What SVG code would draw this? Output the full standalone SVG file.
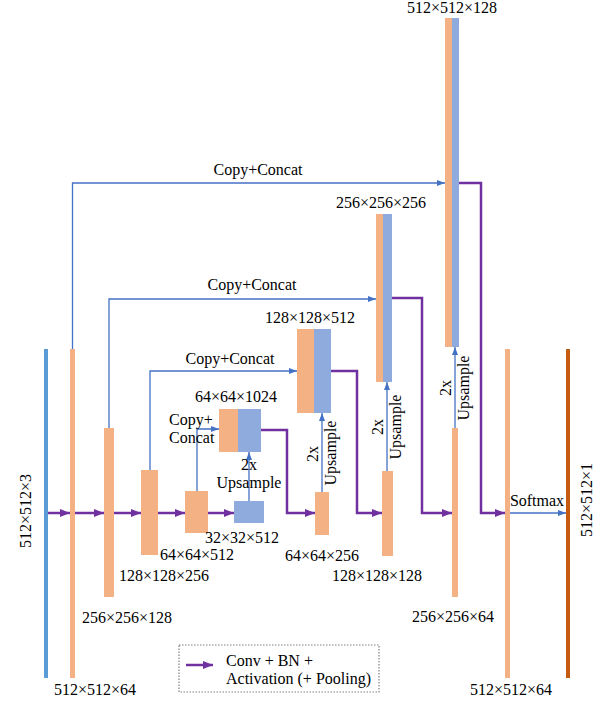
<svg xmlns="http://www.w3.org/2000/svg" width="612" height="704" viewBox="0 0 612 704">
<defs>
<marker id="pa" markerUnits="userSpaceOnUse" markerWidth="10" markerHeight="10" viewBox="0 0 10 10" refX="10" refY="5" orient="auto"><path d="M0,1 L10,5 L0,9 Z" fill="#7030A0"/></marker>
<marker id="ba" markerUnits="userSpaceOnUse" markerWidth="8" markerHeight="8" viewBox="0 0 8 8" refX="8" refY="4" orient="auto"><path d="M0,1 L8,4 L0,7 Z" fill="#4472C4"/></marker>
<style>
.o{fill:#F4B183}.b{fill:#8FAADC}
.p{fill:none;stroke:#7030A0;stroke-width:2.5;marker-end:url(#pa)}
.c{fill:none;stroke:#4472C4;stroke-width:1.3;marker-end:url(#ba)}
text{font-family:"Liberation Serif","Times New Roman",serif;font-size:16px;fill:#000}
.m{text-anchor:middle}
</style>
</defs>
<rect width="612" height="704" fill="#fff"/>
<g id="connectors">
<path class="p" d="M48,513 H70"/>
<path class="p" d="M75,513 H104"/>
<path class="p" d="M114,513 H141"/>
<path class="p" d="M158,513 H185"/>
<path class="p" d="M208,513 H234"/>
<path class="p" d="M261,430 H287 V513 H315"/>
<path class="p" d="M331,371 H357 V513 H382"/>
<path class="p" d="M392,298 H422 V513 H452"/>
<path class="p" d="M459,183 H481 V513 H505"/>
<path class="c" d="M72.5,349 V183 H445"/>
<path class="c" d="M109,428 V299 H376"/>
<path class="c" d="M150,470 V371 H297"/>
<path class="c" d="M197,491 V429 H219"/>
<path class="c" d="M249,501 V452"/>
<path class="c" d="M322,492 V413"/>
<path class="c" d="M387,471 V382"/>
<path class="c" d="M455,428 V347"/>
<path class="c" d="M510,513 H566"/>
</g>
<g id="input"><rect x="44" y="349" width="4" height="329" fill="#5B9BD5"/><text transform="translate(31,511) rotate(-90)" class="m">512×512×3</text></g>
<g id="enc1"><rect class="o" x="70" y="349" width="5" height="329"/><text x="95" y="695" class="m">512×512×64</text></g>
<g id="enc2"><rect class="o" x="104" y="428" width="10" height="169"/><text x="127" y="623" class="m">256×256×128</text></g>
<g id="enc3"><rect class="o" x="141" y="470" width="17" height="85"/><text x="164" y="581" class="m">128×128×256</text></g>
<g id="enc4"><rect class="o" x="185" y="491" width="23" height="42"/><text x="197" y="560" class="m">64×64×512</text></g>
<g id="bottleneck"><rect class="b" x="234" y="501" width="30" height="22"/><text x="242" y="543" class="m">32×32×512</text></g>
<g id="cat1"><rect class="o" x="219" y="409" width="19" height="43"/><rect class="b" x="238" y="409" width="23" height="43"/><text x="236" y="402" class="m">64×64×1024</text></g>
<g id="dec1"><rect class="o" x="315" y="492" width="14" height="43"/><text x="322" y="561" class="m">64×64×256</text></g>
<g id="cat2"><rect class="o" x="297" y="329" width="17" height="84"/><rect class="b" x="314" y="329" width="17" height="84"/><text x="310" y="323" class="m">128×128×512</text></g>
<g id="dec2"><rect class="o" x="382" y="471" width="11" height="85"/><text x="377" y="581" class="m">128×128×128</text></g>
<g id="cat3"><rect class="o" x="376" y="214" width="7" height="168"/><rect class="b" x="383" y="214" width="9" height="168"/><text x="381" y="208" class="m">256×256×256</text></g>
<g id="dec3"><rect class="o" x="452" y="428" width="6" height="169"/><text x="453" y="622" class="m">256×256×64</text></g>
<g id="cat4"><rect class="o" x="445" y="18" width="7" height="329"/><rect class="b" x="452" y="18" width="7" height="329"/><text x="452" y="13" class="m">512×512×128</text></g>
<g id="dec4"><rect class="o" x="505" y="349" width="5" height="329"/><text x="511" y="695" class="m">512×512×64</text></g>
<g id="output"><rect x="566" y="349" width="4" height="329" fill="#C55A11"/><text transform="translate(592,500) rotate(-90)" class="m">512×512×1</text></g>
<g id="labels">
<text x="258" y="175" class="m">Copy+Concat</text>
<text x="252" y="290" class="m">Copy+Concat</text>
<text x="230" y="364" class="m">Copy+Concat</text>
<text x="169" y="425">Copy+</text>
<text x="169" y="443">Concat</text>
<text x="249" y="470" class="m">2x</text>
<text x="249" y="488" class="m">Upsample</text>
<text transform="translate(318,454) rotate(-90)" class="m">2x</text>
<text transform="translate(336,453) rotate(-90)" class="m">Upsample</text>
<text transform="translate(383,427) rotate(-90)" class="m">2x</text>
<text transform="translate(401,427) rotate(-90)" class="m">Upsample</text>
<text transform="translate(451,388) rotate(-90)" class="m">2x</text>
<text transform="translate(469,388) rotate(-90)" class="m">Upsample</text>
<text x="537" y="506" class="m">Softmax</text>
</g>
<g id="legend">
<rect x="179" y="645" width="200" height="47" fill="none" stroke="#808080" stroke-width="1.2" stroke-dasharray="1.5,1.5"/>
<path class="p" d="M186,665 H213"/>
<text x="226" y="666">Conv + BN +</text>
<text x="226" y="684">Activation (+ Pooling)</text>
</g>
</svg>
